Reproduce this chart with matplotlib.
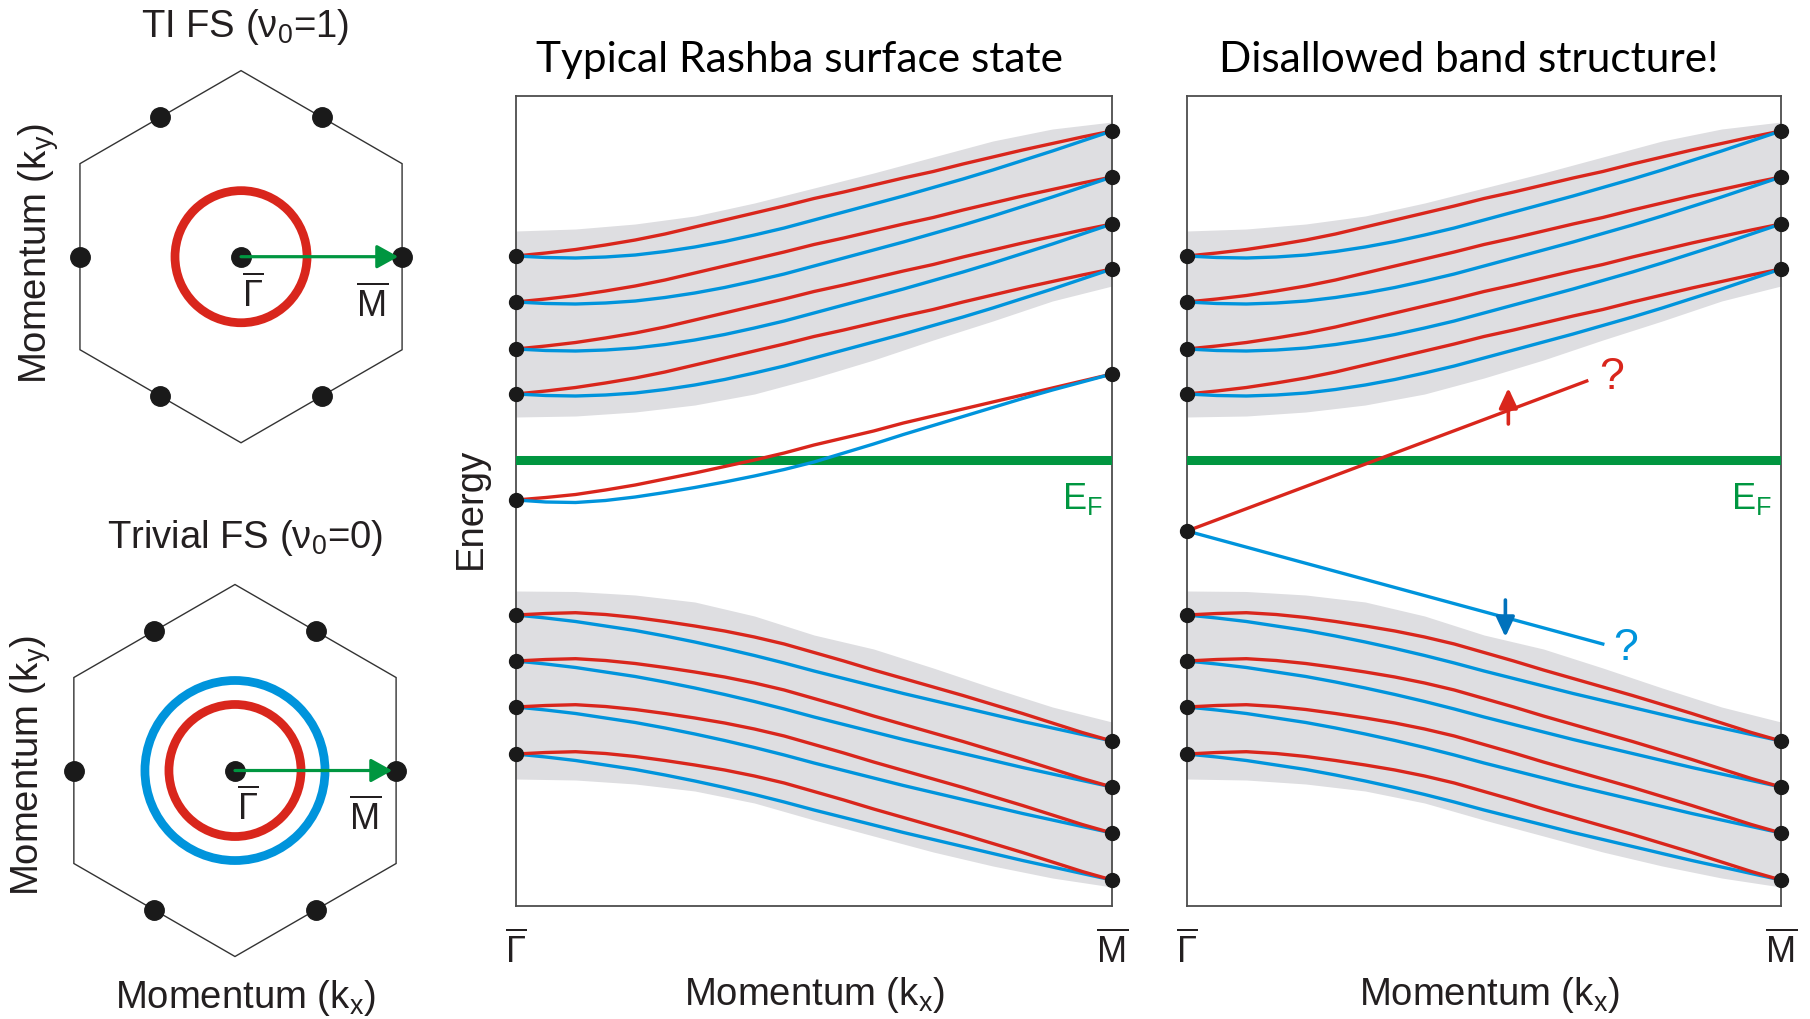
import numpy as np
import matplotlib.pyplot as plt
from matplotlib.patches import Circle, RegularPolygon

plt.rcParams['font.family'] = ['Liberation Sans', 'DejaVu Sans']
plt.rcParams['mathtext.fontset'] = 'custom'
plt.rcParams['mathtext.rm'] = 'Liberation Sans'
plt.rcParams['mathtext.it'] = 'Liberation Sans:italic'
plt.rcParams['mathtext.bf'] = 'Liberation Sans:bold'

# --- data (energy in arbitrary units, 0 = bottom of frame) ---
k = [0.0, 0.05, 0.1, 0.15, 0.2, 0.25, 0.3, 0.35, 0.4, 0.45, 0.5,
     0.55, 0.6, 0.65, 0.7, 0.75, 0.8, 0.85, 0.9, 0.95, 1.0]
cb_gamma = [650, 604, 557, 512]          # conduction band pairs, energy at Gamma
cb_red = [0, 3, 6.5, 11, 16, 22, 29, 36, 43, 50, 57.5,
          64, 71, 78, 84.5, 92, 99, 106, 112.5, 119, 125]    # relative to Gamma
cb_blue = [0, -1.5, -2, -1, 1, 4.5, 9, 14.5, 21, 28, 36,
           44, 52, 60, 68.5, 77, 86, 95.5, 105, 115, 125]
vb_gamma = [291, 245, 199, 152]          # valence band pairs
vb_red = [0, 1.5, 2.3, 0.5, -2.5, -6.5, -11, -16, -22, -29, -37.5,
          -46, -55, -63.5, -72, -80.5, -89.5, -98.5, -108, -117.5, -126]
vb_blue = [0, -3, -6.5, -11, -15.5, -21, -27, -33.5, -40.5, -48, -56,
           -63.5, -71, -78.5, -85.5, -92.5, -99.5, -106.5, -113, -119.5, -126]
ss_gamma = 406                           # Rashba surface state
ss_red = [0, 2.5, 5.5, 10, 15, 21, 27, 33.5, 40, 47, 55,
          62, 69, 77, 84, 91, 98, 105, 112, 119, 126]
ss_blue = [0, -2, -2.5, -0.5, 3, 7.5, 12.5, 18, 24, 30.5, 38,
           47, 56, 65.5, 74.5, 83.5, 92.5, 101.5, 110, 118, 126]

grey_k = [0.0, 0.1, 0.2, 0.3, 0.4, 0.5, 0.6, 0.7, 0.8, 0.9, 1.0]
cb_grey_top = [675, 677, 682, 690, 703, 718, 733, 749, 765, 777, 784]
cb_grey_bot = [489, 490, 494, 501, 512, 528, 546, 566, 585, 605, 620]
vb_grey_top = [315, 314.5, 311, 304, 290, 271, 257, 238, 218, 199, 184]
vb_grey_bot = [127, 126, 122, 115, 103, 86, 70, 54, 40, 28, 19]

e_fermi = 446

# disallowed panel: single spin-split branches from Gamma
bad_k = [0.0, 0.673, 0.70]
bad_red_e = [375, 525]
bad_blue_e = [375, 262]
spin_up = (0.541, 482, 518)     # k, tail, tip
spin_down = (0.536, 306, 269)

# Brillouin zone pictures (units of hexagon radius)
m_angles = [0, 60, 120, 180, 240, 300]
ti_rings = [0.355]
trivial_rings = [0.355, 0.484]

RED = '#d9261c'
BLUE = '#0094dc'
GREEN = '#009640'
DARKBLUE = '#0072bc'
GREY = '#dedee1'
DOT = '#1a1a1a'
TXT = '#231f20'

GAMMA = r'$\overline{\Gamma}$'
MBAR = r'$\overline{\mathrm{M}}$'
KX = r'Momentum (k$_{\mathrm{x}}$)'
KY = r'Momentum (k$_{\mathrm{y}}$)'
LAB = 27.5

fig = plt.figure(figsize=(18.1, 10.2), dpi=100)


def bz_panel(rect, xlim, ylim, rings, ring_cols, title, title_xy, ky_xy, kx_xy, g_xy, m_xy):
    ax = fig.add_axes(rect)
    ax.set_xlim(xlim)
    ax.set_ylim(ylim)
    ax.axis('off')
    ax.add_patch(RegularPolygon((0, 0), numVertices=6, radius=1.0, fill=False,
                                ec='#333333', lw=1.0))
    for r, c in zip(rings, ring_cols):
        ax.add_patch(Circle((0, 0), r, fill=False, ec=c, lw=6.3, zorder=2))
    a = np.deg2rad(m_angles)
    rm = np.sqrt(3) / 2
    ax.plot(rm * np.cos(a), rm * np.sin(a), 'o', ms=14, color=DOT, zorder=3)
    ax.plot([0], [0], 'o', ms=14, color=DOT, zorder=3)
    ax.annotate('', xy=(0.845, 0), xytext=(0, 0), zorder=4,
                arrowprops=dict(arrowstyle='-|>,head_length=0.65,head_width=0.36',
                                color=GREEN, lw=2.3, mutation_scale=20,
                                shrinkA=0, shrinkB=0))
    ax.text(g_xy[0], g_xy[1], GAMMA, fontsize=26, ha='center', va='center', color=TXT)
    ax.text(m_xy[0], m_xy[1], MBAR, fontsize=26, ha='center', va='center', color=TXT)
    ax.text(title_xy[0], title_xy[1], title, fontsize=LAB, ha='center', va='center', color=TXT)
    ax.text(ky_xy[0], ky_xy[1], KY, fontsize=LAB, ha='center', va='center',
            rotation=90, color=TXT)
    if kx_xy is not None:
        ax.text(kx_xy[0], kx_xy[1], KX, fontsize=LAB, ha='center', va='center', color=TXT)
    return ax


bz_panel([0, 0.5, 480 / 1810, 0.5], (-1.296, 1.285), (-1.356, 1.385),
         ti_rings, [RED], r'TI FS ($\mathrm{\nu}_{0}$=1)', (0.02, 1.242),
         (-1.09, 0.025), None, (0.065, -0.198), (0.706, -0.252))
bz_panel([0, 0, 480 / 1810, 0.5], (-1.263, 1.317), (-1.336, 1.406),
         trivial_rings, [RED, BLUE], r'Trivial FS ($\mathrm{\nu}_{0}$=0)', (0.054, 1.255),
         (-1.10, 0.03), (0.054, -1.218), (0.072, -0.194), (0.70, -0.247))


def band_panel(left, width, title, title_x, kx_x, energy_label):
    ax = fig.add_axes([left / 1810, 113 / 1020, width / 1810, 810 / 1020])
    ax.set_xlim(0, 1)
    ax.set_ylim(0, 810)
    for s in ax.spines.values():
        s.set_color('#4d4d4d')
        s.set_linewidth(1.3)
    ax.set_yticks([])
    ax.set_xticks([0, 1], [GAMMA, MBAR], fontsize=26, color=TXT)
    ax.tick_params(axis='x', length=0, pad=17)

    ax.fill_between(grey_k, cb_grey_bot, cb_grey_top, color=GREY, lw=0, zorder=1)
    ax.fill_between(grey_k, vb_grey_bot, vb_grey_top, color=GREY, lw=0, zorder=1)
    for g in cb_gamma:
        ax.plot(k, [g + v for v in cb_red], color=RED, lw=2.4, zorder=3)
        ax.plot(k, [g + v for v in cb_blue], color=BLUE, lw=2.4, zorder=3)
    for g in vb_gamma:
        ax.plot(k, [g + v for v in vb_blue], color=BLUE, lw=2.4, zorder=3)
        ax.plot(k, [g + v for v in vb_red], color=RED, lw=2.4, zorder=3)
    ax.plot([0] * 8, cb_gamma + vb_gamma, 'o', ms=10, color=DOT, zorder=6, clip_on=False)
    ax.plot([1] * 8, [cb_gamma[i] + cb_red[-1] for i in range(4)] +
            [vb_gamma[i] + vb_red[-1] for i in range(4)],
            'o', ms=10, color=DOT, zorder=6, clip_on=False)

    ax.axhline(e_fermi, color=GREEN, lw=6.5, zorder=4)
    ax.text(0.95, 408, r'E$_{\mathrm{F}}$', fontsize=26, color=GREEN,
            ha='center', va='center')
    ax.text(title_x, 1.0457, title, transform=ax.transAxes, fontsize=30.5,
            family=['Lato', 'DejaVu Sans'], ha='center', va='center', color='black')
    ax.text(kx_x, -0.1086, KX, transform=ax.transAxes, fontsize=LAB,
            ha='center', va='center', color=TXT)
    if energy_label:
        ax.text(-0.0755, 0.4926, 'Energy', transform=ax.transAxes, fontsize=LAB,
                rotation=90, ha='center', va='center', color=TXT)
    return ax


ax1 = band_panel(516, 596, 'Typical Rashba surface state', 0.4765, 0.50, True)
ax1.plot(k, [ss_gamma + v for v in ss_red], color=RED, lw=2.4, zorder=5)
ax1.plot(k, [ss_gamma + v for v in ss_blue], color=BLUE, lw=2.4, zorder=5)
ax1.plot([0, 1], [ss_gamma, ss_gamma + ss_red[-1]], 'o', ms=10, color=DOT,
         zorder=6, clip_on=False)

ax2 = band_panel(1187, 594, 'Disallowed band structure!', 0.475, 0.51, False)
ax2.plot(bad_k[:2], bad_red_e, color=RED, lw=2.4, zorder=5)
ax2.plot([bad_k[0], bad_k[2]], bad_blue_e, color=BLUE, lw=2.4, zorder=5)
ax2.plot([0], [bad_red_e[0]], 'o', ms=10, color=DOT, zorder=6, clip_on=False)
for (kk, tail, tip), c in [(spin_up, RED), (spin_down, DARKBLUE)]:
    ax2.annotate('', xy=(kk, tip), xytext=(kk, tail), zorder=6,
                 arrowprops=dict(arrowstyle='-|>,head_length=0.6,head_width=0.28',
                                 color=c, lw=2.6, mutation_scale=20,
                                 shrinkA=0, shrinkB=0))
ax2.text(0.715, 530, '?', fontsize=32, color=RED, ha='center', va='center')
ax2.text(0.739, 259, '?', fontsize=32, color=BLUE, ha='center', va='center')

fig.savefig('out.png', dpi=100)
